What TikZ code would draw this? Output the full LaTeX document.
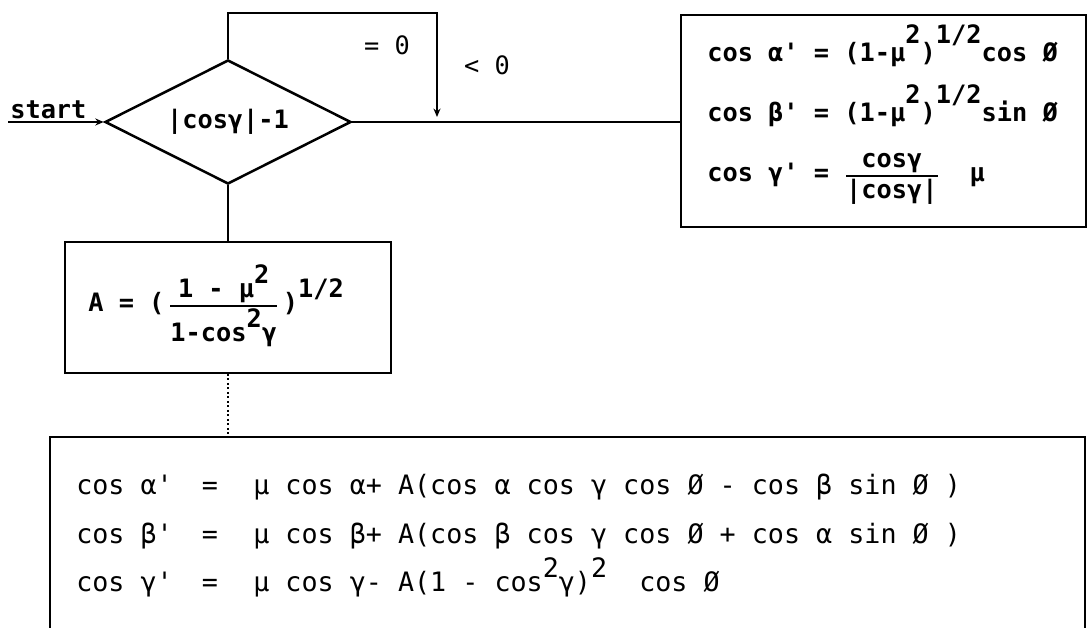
\documentclass[tikz,border=0pt]{standalone}
\usepackage{fontspec}
\usepackage{amsmath}
\usetikzlibrary{arrows.meta,shapes.geometric}
\newfontfamily\typew{DejaVu Sans Mono}
\newcommand{\sups}[2][13pt]{\raisebox{#1}{#2}}
\newcommand{\bfr}[2]{$\genfrac{}{}{1.4pt}{}{\hbox{#1}}{\hbox{#2}}$}

\begin{document}
\begin{tikzpicture}[x=0.025cm,y=-0.025cm,
  txt/.style={font=\typew\bfseries\fontsize{18}{22}\selectfont,inner sep=0pt},
  thin/.style={font=\typew\fontsize{18}{22}\selectfont,inner sep=0pt},
  row/.style={font=\typew\fontsize{19}{22}\selectfont,inner sep=0pt},
  box/.style={draw,line width=1.4pt,inner sep=0pt},
  cond/.style={diamond,aspect=2,draw,line width=1.8pt,inner sep=0pt,
    minimum width=6.15cm,minimum height=3.1cm},
  link/.style={line width=1.2pt},
  flow/.style={link,-{Stealth[length=6pt,width=5pt]}}]
  \useasboundingbox (0,0) rectangle (1088,628);
  \clip (0,0) rectangle (1088,628);
  \fill[white] (0,0) rectangle (1088,628);

  % ===== test on |cos gamma| - 1 =====
  \node[cond,txt] (test) at (228,122) {|cosγ|-1};
  \node[txt,anchor=base west] (startlbl) at (10,119) {start};
  \coordinate (entry) at (8,122);
  \draw[flow] (entry) -- (test.west);

  % loop back for the = 0 case
  \coordinate (looptop) at (437,13);
  \coordinate (loopend) at (437,117);
  \draw[flow] (test.north) |- (looptop) -- (loopend);
  \node[thin] (eqzero) at (387,45) {= 0};
  \node[thin] (ltzero) at (487,65) {< 0};

  % ===== boxes =====
  \node[box,minimum width=10.125cm,minimum height=5.3cm] (limit) at (883.5,121) {};
  \node[box,minimum width=8.125cm,minimum height=3.275cm] (coefA) at (228,307.5) {};
  \node[box,minimum width=25.875cm,minimum height=5cm] (update) at (567.5,537) {};

  % ===== connectors =====
  \draw[link] (test.east) -- (test.east -| limit.west);
  \draw[link] (test.south) -- (coefA.north);
  \draw[link,dotted] (coefA.south) -- (coefA.south |- update.north);

  % ===== box texts =====
  \node[txt,anchor=base west] (la) at (707,62) {cos α' = (1-μ\sups{2})\sups{1/2}cos Ø};
  \node[txt,anchor=base west] (lb) at (707,122) {cos β' = (1-μ\sups{2})\sups{1/2}sin Ø};
  \node[txt,anchor=base west] (lc) at (707,182) {cos γ' = \bfr{cosγ}{|cosγ|}\ \ μ};

  \node[txt,anchor=base west] (aeq) at (88,312)
    {A = (\,\bfr{1 - μ\sups[10pt]{2}}{1-cos\sups[10pt]{2}γ}\,)\sups[10pt]{1/2}};

  \node[row,anchor=base west] (ua) at (76,495) {cos α'};
  \node[row,anchor=base] (uaeq) at (210,495) {=};
  \node[row,anchor=base west] (uar) at (253,495) {μ cos α+ A(cos α cos γ cos Ø - cos β sin Ø )};
  \node[row,anchor=base west] (ub) at (76,544) {cos β'};
  \node[row,anchor=base] (ubeq) at (210,544) {=};
  \node[row,anchor=base west] (ubr) at (253,544) {μ cos β+ A(cos β cos γ cos Ø + cos α sin Ø )};
  \node[row,anchor=base west] (uc) at (76,592) {cos γ'};
  \node[row,anchor=base] (uceq) at (210,592) {=};
  \node[row,anchor=base west] (ucr) at (253,592)
    {μ cos γ- A(1 - cos\sups[10pt]{2}γ)\sups[10pt]{2}\ \ cos Ø};
\end{tikzpicture}
\end{document}
